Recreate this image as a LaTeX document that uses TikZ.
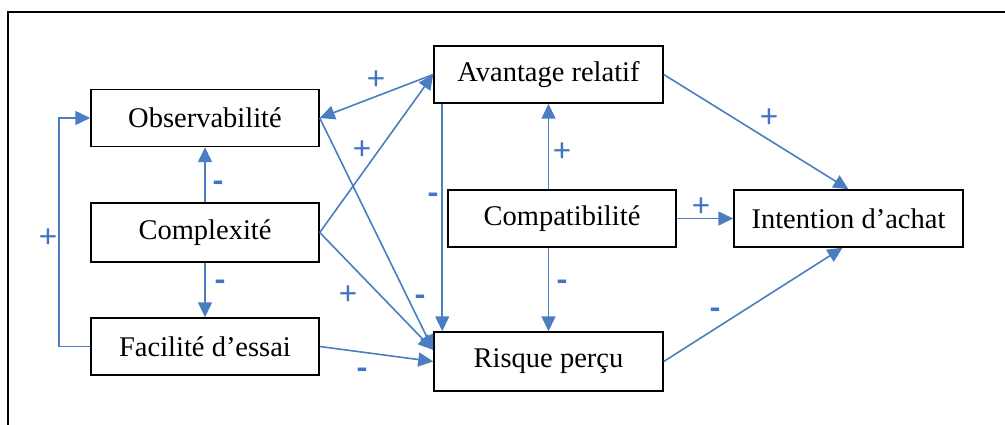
\documentclass[tikz,border=0pt]{standalone}
\usepackage{fontspec}
\setmainfont{Liberation Serif}
\newfontfamily\signfont{Carlito}
\usetikzlibrary{arrows.meta}
\definecolor{linkblue}{RGB}{74,126,193}
\definecolor{signblue}{RGB}{68,114,196}
\tikzset{
  box/.style={draw, line width=1.5pt, minimum width=228pt, minimum height=57pt, inner sep=0pt, font=\fontsize{28.5}{33}\selectfont},
  link/.style={draw=linkblue, line width=1.6pt, -{Triangle[length=15pt,width=14pt]}},
  sign/.style={text=signblue, font=\signfont\fontsize{34}{40}\selectfont, inner sep=0pt},
  minus/.style={sign, font=\signfont\bfseries\fontsize{34}{40}\selectfont, yshift=-6pt},
}
\begin{document}
\begin{tikzpicture}[x=1pt,y=-1pt]
        \useasboundingbox (0,0) rectangle (1005,425);
        \draw[line width=1.5pt] (8,425) -- (8,12) -- (1005,12);

        \node[box] at (205,118) (obs) {Observabilité};
        \node[box, minimum height=59pt] at (205,232.5) (cplx) {Complexité};
        \node[box] at (205,346.5) (fac) {Facilité d’essai};
        \node[box, minimum width=229pt] at (548.5,74.5) (avr) {Avantage relatif};
        \node[box] at (562,218.5) (cmp) {Compatibilité};
        \node[box, minimum width=229pt] at (848.5,218.5) (int) {Intention d’achat};
        \node[box, minimum width=229pt, minimum height=59pt] at (548.5,361.5) (rsk) {Risque perçu};
        \coordinate (rskin) at ([yshift=11.5pt]rsk.west);

        \draw[link] (cplx.north) -- (obs.south);
        \draw[link] (cplx.south) -- (fac.north);
        \draw[link] (fac.west) -- ++(-31,0) |- (obs.west);
        \draw[link] (avr.west) -- (obs.east);
        \draw[link] (obs.east) -- (rskin);
        \draw[link] (cplx.east) -- (avr.west);
        \draw[link] (cplx.east) -- (rskin);
        \draw[link] (fac.east) -- (rsk.west);
        \draw[link] ([xshift=9pt]avr.south west) -- ([xshift=9pt]rsk.north west);
        \draw[link] (cmp.north -| avr.south) -- (avr.south);
        \draw[link] (cmp.south -| rsk.north) -- (rsk.north);
        \draw[link] (cmp.east) -- (int.west);
        \draw[link] (avr.east) -- (int.north);
        \draw[link] (rsk.east) -- ([xshift=-6pt]int.south);

        \node[sign] at (376,80) (s1) {+};
        \node[sign] at (362,150) (s2) {+};
        \node[minus] at (218,181) (s3) {-};
        \node[minus] at (220,280) (s4) {-};
        \node[sign] at (48,238) (s5) {+};
        \node[sign] at (348,295) (s6) {+};
        \node[minus] at (420,295) (s7) {-};
        \node[minus] at (362,368) (s8) {-};
        \node[minus] at (433,193) (s9) {-};
        \node[sign] at (562,152) (s10) {+};
        \node[minus] at (562,280) (s11) {-};
        \node[sign] at (701,207) (s12) {+};
        \node[sign] at (769,118) (s13) {+};
        \node[minus] at (715,308) (s14) {-};
\end{tikzpicture}
\end{document}
